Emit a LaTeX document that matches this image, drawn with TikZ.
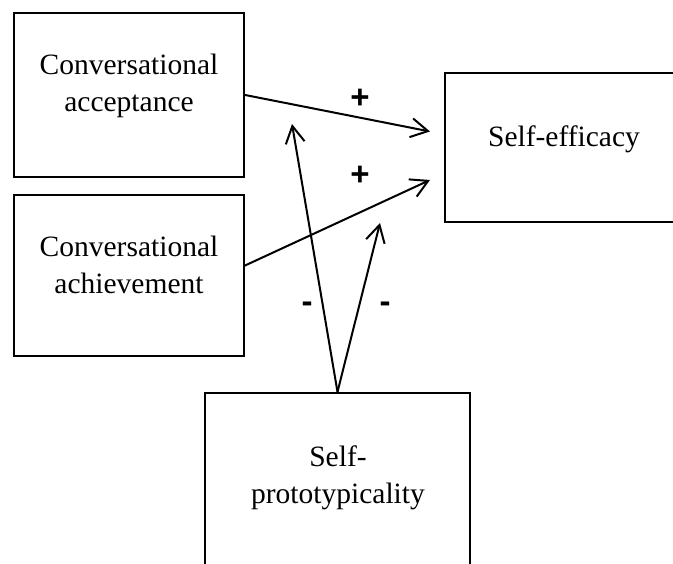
\documentclass[tikz,border=0pt]{standalone}
\usepackage{fontspec}
\setmainfont{Liberation Serif}
\newfontfamily\signfont{Liberation Sans}
\usetikzlibrary{arrows.meta}
\begin{document}
\begin{tikzpicture}[x=1pt,y=-1pt,
  box/.style={draw,line width=2.2pt,inner sep=0pt},
  lbl/.style={align=center,font=\fontsize{29.5}{37}\selectfont,inner sep=0pt},
  sign/.style={font=\signfont\bfseries\fontsize{33}{34}\selectfont,inner sep=0pt},
  arr/.style={line width=2pt,-{Straight Barb[length=17pt,width=19pt,line width=2pt]}}]
\useasboundingbox (0,0) rectangle (673,564);
\clip (0,0) rectangle (673,564);
\node[box,minimum width=230pt,minimum height=164pt] (A) at (129,95) {};
\node[box,minimum width=230pt,minimum height=161pt] (B) at (129,275.5) {};
\node[box,minimum width=260pt,minimum height=149pt] (C) at (575,147.5) {};
\node[box,minimum width=265pt,minimum height=220pt] (D) at (337.5,503) {};
\node[lbl] (At) at (129,86) {Conversational\\acceptance};
\node[lbl] (Bt) at (129,264.5) {Conversational\\achievement};
\node[lbl] (Ct) at (564,139) {Self-efficacy};
\node[lbl] (Dt) at (338,478) {Self-\\prototypicality};
\coordinate (C1) at (430,131.5);
\coordinate (C2) at (430,180);
\coordinate (M1) at (292,124);
\coordinate (M2) at (380,223);
\coordinate (Bs) at (244,266);
\draw[arr] (A.east) -- (C1);
\draw[arr] (Bs) -- (C2);
\draw[arr] (D.north) -- (M1);
\draw[arr] (D.north) -- (M2);
\node[sign] (p1) at (360,99) {+};
\node[sign] (p2) at (360,176) {+};
\node[sign] (m1) at (307,307) {-};
\node[sign] (m2) at (385,307) {-};
\end{tikzpicture}
\end{document}
